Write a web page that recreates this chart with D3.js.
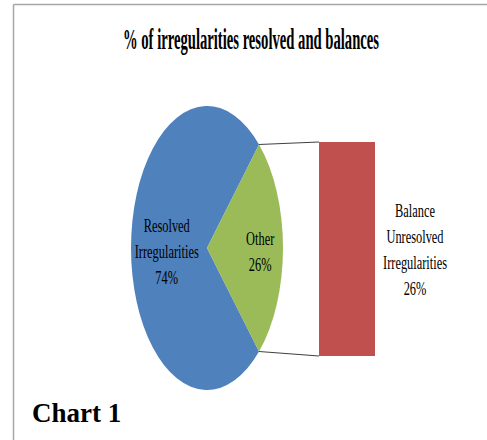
<!DOCTYPE html>
<html>
<head>
<meta charset="utf-8">
<script src="https://cdn.jsdelivr.net/npm/d3@7"></script>
<style>
  body { margin: 0; background: #fff; }
  svg { display: block; }
</style>
</head>
<body>
<script>
// data
const pieCategories = ['Resolved Irregularities', 'Other']
const pieValues = [74, 26]
const barCategories = ['Balance Unresolved Irregularities']
const barValues = [26]
const title = '% of irregularities resolved and balances'

const W = 487, H = 440
const FONT = '"Liberation Serif"'
const colors = ['#4F81BD', '#9BBB59']
const barColor = '#C0504D'

const svg = d3.select('body').append('svg').attr('width', W).attr('height', H)

// frame of the chart area
svg.append('line').attr('x1', 13.5).attr('y1', 4.5).attr('x2', W).attr('y2', 4.5)
  .attr('stroke', '#a6a6a6').attr('stroke-width', 1.5)
svg.append('line').attr('x1', 13.5).attr('y1', 4.5).attr('x2', 13.5).attr('y2', H)
  .attr('stroke', '#a6a6a6').attr('stroke-width', 1.5)

// title, squeezed to the width it has in the picture
const tg = svg.append('g')
const tt = tg.append('text').attr('text-anchor', 'middle')
  .style('font-family', FONT).style('font-weight', 'bold').style('font-size', '29px')
  .text(title)
const tw = tt.node().getComputedTextLength()
tg.attr('transform', `translate(251,49) scale(${256 / tw},1)`)

// pie (drawn as circle, squeezed horizontally)
const cx = 207, cy = 248, ry = 142, rx = 76
const total = d3.sum(pieValues)
const start = Math.PI / 2 + Math.PI * pieValues[1] / total
const pie = d3.pie().sort(null).startAngle(start).endAngle(start + 2 * Math.PI)
const arcs = pie(pieValues)
const arc = d3.arc().innerRadius(0).outerRadius(ry)

const gPie = svg.append('g').attr('transform', `translate(${cx},${cy}) scale(${rx / ry},1)`)
gPie.selectAll('path').data(arcs).enter().append('path')
  .attr('d', arc)
  .attr('fill', (d, i) => colors[i])

// bar
const y = d3.scaleLinear().domain([0, d3.sum(barValues)]).range([356, 142])
const x = d3.scaleBand().domain(barCategories).range([319, 375])
svg.selectAll('rect.bar').data(barValues).enter().append('rect')
  .attr('class', 'bar')
  .attr('x', (d, i) => x(barCategories[i]))
  .attr('y', d => y(d))
  .attr('width', x.bandwidth())
  .attr('height', d => y(0) - y(d))
  .attr('fill', barColor)

// connector lines from the "Other" slice edges to the bar
const other = arcs[1]
const edge = a => [cx + rx * Math.sin(a), cy - ry * Math.cos(a)]
const p1 = edge(other.startAngle), p2 = edge(other.endAngle)
const bx = x(barCategories[0])
svg.append('line').attr('x1', p1[0]).attr('y1', p1[1]).attr('x2', bx).attr('y2', y(d3.sum(barValues)))
  .attr('stroke', '#404040').attr('stroke-width', 1)
svg.append('line').attr('x1', p2[0]).attr('y1', p2[1]).attr('x2', bx).attr('y2', y(0))
  .attr('stroke', '#404040').attr('stroke-width', 1)

// labels: narrow serif, squeezed so "Irregularities" is ~64px wide
const lineH = 26
const probe = svg.append('text').style('font-family', FONT).style('font-size', '19px').text('Irregularities')
const sx = 64 / probe.node().getComputedTextLength()
probe.remove()

function label(px, py, lines, off) {
  const g = svg.append('g').attr('transform', `translate(${px},${py}) scale(${sx},1)`)
  const t = g.append('text').attr('text-anchor', 'middle')
    .style('font-family', FONT).style('font-size', '19px').attr('fill', '#000')
  lines.forEach((s, i) => {
    t.append('tspan').attr('x', 0)
      .attr('y', (i - (lines.length - 1) / 2) * lineH + off)
      .text(s)
  })
}

const labelR = [0.53, 0.7]
arcs.forEach((d, i) => {
  const mid = (d.startAngle + d.endAngle) / 2
  const lx = cx + rx * labelR[i] * Math.sin(mid)
  const ly = cy - ry * labelR[i] * Math.cos(mid)
  const words = pieCategories[i].split(' ')
  label(lx, ly, [...words, Math.round(pieValues[i] / total * 100) + '%'], 10)
})

barValues.forEach((v, i) => {
  const words = barCategories[i].split(' ')
  const lines = [words[0], words[1], words[2], v + '%']
  label(415, (y(0) + y(v)) / 2, lines, 7)
})

// caption below the chart
svg.append('text').attr('x', 32).attr('y', 422)
  .style('font-family', FONT).style('font-weight', 'bold').style('font-size', '27px')
  .text('Chart 1')
</script>
</body>
</html>
